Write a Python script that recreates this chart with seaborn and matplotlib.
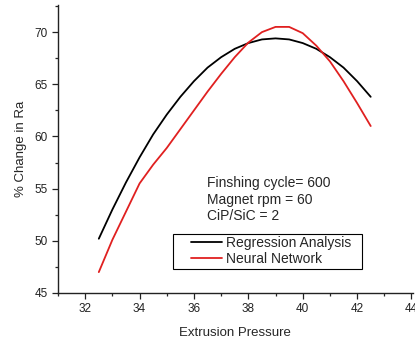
import pandas as pd
import matplotlib
matplotlib.use('Agg')
import matplotlib.pyplot as plt
from matplotlib.patches import Rectangle
import seaborn as sns

# values
pressure = [32.5, 33.0, 33.5, 34.0, 34.5, 35.0, 35.5, 36.0, 36.5, 37.0, 37.5,
            38.0, 38.5, 39.0, 39.5, 40.0, 40.5, 41.0, 41.5, 42.0, 42.5]
regression = [50.2, 53.0, 55.6, 58.0, 60.2, 62.1, 63.8, 65.3, 66.6, 67.6, 68.4,
              68.95, 69.3, 69.4, 69.3, 68.95, 68.4, 67.6, 66.6, 65.3, 63.8]
neural = [47.0, 50.1, 52.8, 55.5, 57.3, 58.9, 60.7, 62.5, 64.3, 66.0, 67.6,
          69.0, 70.0, 70.5, 70.5, 69.9, 68.7, 67.2, 65.3, 63.2, 61.0]
series_names = ['Regression Analysis', 'Neural Network']
note = 'Finshing cycle= 600\nMagnet rpm = 60\nCiP/SiC = 2'

df = pd.DataFrame({
    'Extrusion Pressure': pressure * 2,
    'Change': regression + neural,
    'Model': [series_names[0]] * len(pressure) + [series_names[1]] * len(pressure),
})

sns.set_style('ticks')
plt.rcParams['font.family'] = ['Liberation Sans', 'DejaVu Sans']

fig = plt.figure(figsize=(4.15, 3.37), dpi=100)
ax = fig.add_axes([0.1398, 0.1306, 0.855, 0.8546])

sns.lineplot(data=df, x='Extrusion Pressure', y='Change', hue='Model',
             palette={series_names[0]: 'black', series_names[1]: '#e02020'},
             linewidth=1.3, ax=ax)

ax.set_xlim(31.05, 44.05)
ax.set_ylim(45, 72.6)
ax.set_xticks([32, 34, 36, 38, 40, 42, 44])
ax.set_xticks([31, 33, 35, 37, 39, 41, 43], minor=True)
ax.set_yticks([45, 50, 55, 60, 65, 70])
ax.set_yticks([47.5, 52.5, 57.5, 62.5, 67.5, 72.5], minor=True)
ax.tick_params(which='major', length=4, width=0.9, labelsize=8.5, colors='#222222')
ax.tick_params(which='minor', length=2.5, width=0.9)
for s in ['top', 'right']:
    ax.spines[s].set_visible(False)
for s in ['left', 'bottom']:
    ax.spines[s].set_linewidth(1.0)
    ax.spines[s].set_color('#222222')

ax.set_xlabel('Extrusion Pressure', fontsize=9.5, labelpad=8)
ax.set_ylabel('% Change in Ra', fontsize=9.5, labelpad=5)

ax.text(0.42, 0.405, note, transform=ax.transAxes, fontsize=10,
        va='top', ha='left', linespacing=1.2)

# legend box drawn separately so the handles can sit inset like the original
ax.add_patch(Rectangle((0.324, 0.083), 0.532, 0.122, transform=ax.transAxes,
                       fill=False, edgecolor='black', linewidth=0.8, zorder=4))
leg = ax.legend(loc='upper left', bbox_to_anchor=(0.375, 0.198), borderaxespad=0,
                fontsize=10, frameon=False, handlelength=2.2,
                handletextpad=0.35, labelspacing=0.12, borderpad=0, title=None)

fig.savefig('out.png', dpi=100)
